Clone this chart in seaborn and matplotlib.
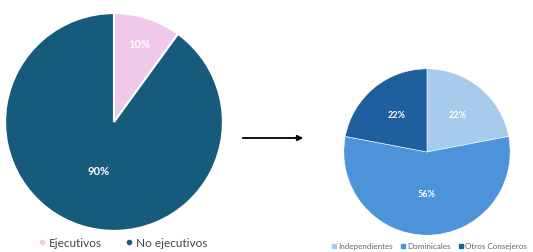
import numpy as np
import seaborn as sns
import matplotlib.pyplot as plt
from matplotlib.lines import Line2D
from matplotlib.patches import FancyArrowPatch

# Data
left_labels = ["Ejecutivos", "No ejecutivos"]
left_values = [10, 90]
left_colors = ["#F0C8EA", "#175B7C"]

right_labels = ["Independientes", "Dominicales", "Otros Consejeros"]
right_values = [22, 56, 22]
right_colors = ["#A7CBEC", "#4C93DA", "#1F5F9F"]

sns.set_theme(style="white")
plt.rcParams['font.family'] = ['Lato', 'DejaVu Sans']

fig = plt.figure(figsize=(5.33, 2.53), dpi=100)
W, H = 533, 253

def px_axes(cx, cy, r):
    return fig.add_axes([(cx - r) / W, 1 - (cy + r) / H, 2 * r / W, 2 * r / H])

def place_labels(wedges, texts, dists):
    for w, t, d in zip(wedges, texts, dists):
        ang = np.deg2rad((w.theta1 + w.theta2) / 2)
        t.set_position((d * np.cos(ang), d * np.sin(ang)))

# Left pie
ax1 = px_axes(114, 123, 110)
wed, _, pct = ax1.pie(left_values, colors=left_colors, startangle=90, counterclock=False,
                      wedgeprops=dict(edgecolor="white", linewidth=1.5),
                      autopct="%d%%",
                      textprops=dict(color="white", fontsize=8, fontweight="bold"))
place_labels(wed, pct, [0.76, 0.47])
ax1.set_xlim(-1.01, 1.01)
ax1.set_ylim(-1.01, 1.01)
ax1.set_aspect("equal")

# Right pie
ax2 = px_axes(427, 153, 84)
wed, _, pct = ax2.pie(right_values, colors=right_colors, startangle=90, counterclock=False,
                      wedgeprops=dict(edgecolor="white", linewidth=0.4),
                      autopct="%d%%",
                      textprops=dict(color="white", fontsize=6.5, fontweight="bold"))
place_labels(wed, pct, [0.58, 0.5, 0.58])
ax2.set_xlim(-1.01, 1.01)
ax2.set_ylim(-1.01, 1.01)
ax2.set_aspect("equal")

# Arrow
fig.patches.append(FancyArrowPatch(
    (240 / W, 1 - 139 / H), (306 / W, 1 - 139 / H), transform=fig.transFigure,
    arrowstyle="-|>", mutation_scale=8, color="black", linewidth=1.3))

# Legends
h1 = [Line2D([], [], marker="o", linestyle="", color=c, markersize=3) for c in left_colors]
fig.legend(h1, left_labels, loc="center", bbox_to_anchor=(122 / W, 1 - 244 / H),
           ncol=2, frameon=False, fontsize=8.5, handletextpad=0.1, columnspacing=1.8,
           handlelength=1.0, labelcolor="#444444")

h2 = [Line2D([], [], marker="s", linestyle="", color=c, markersize=2.5) for c in right_colors]
fig.legend(h2, right_labels, loc="center", bbox_to_anchor=(429 / W, 1 - 247 / H),
           ncol=3, frameon=False, fontsize=5.8, handletextpad=0.1, columnspacing=0.9,
           handlelength=0.8, labelcolor="#666666")

fig.savefig("out.png", dpi=100)
